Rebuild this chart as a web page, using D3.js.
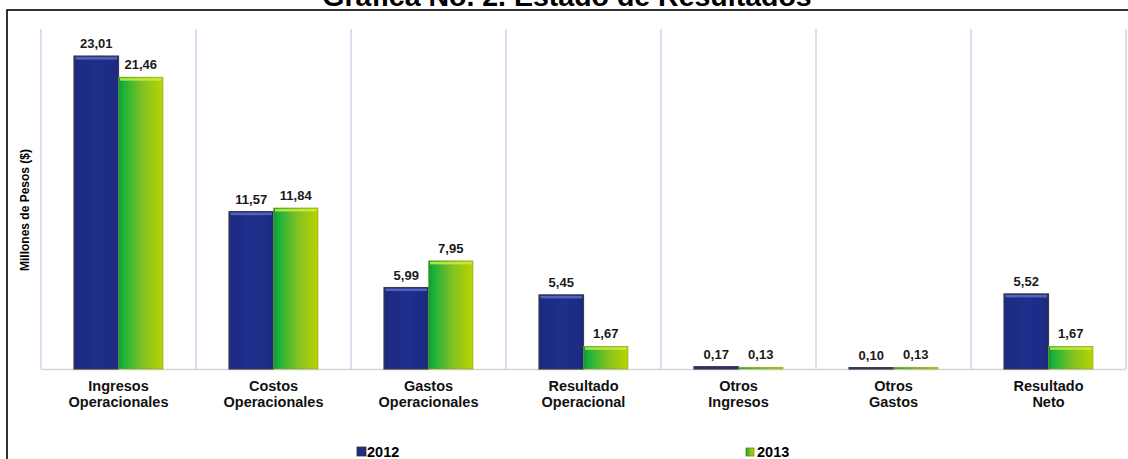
<!DOCTYPE html>
<html>
<head>
<meta charset="utf-8">
<script src="https://cdn.jsdelivr.net/npm/d3@7"></script>
<style>
  body { margin: 0; background: #fff; }
  svg { display: block; font-family: Arial, "Liberation Sans", sans-serif; }
</style>
</head>
<body>
<div id="chart"></div>
<script>
const categories = ["Ingresos Operacionales", "Costos Operacionales", "Gastos Operacionales",
    "Resultado Operacional", "Otros Ingresos", "Otros Gastos", "Resultado Neto"];
const values2012 = [23.01, 11.57, 5.99, 5.45, 0.17, 0.10, 5.52];
const values2013 = [21.46, 11.84, 7.95, 1.67, 0.13, 0.13, 1.67];
const seriesNames = ["2012", "2013"];

const width = 1128, height = 459;
const plot = {left: 41, right: 1126, top: 29, bottom: 369};

const svg = d3.select("#chart").append("svg")
    .attr("width", width)
    .attr("height", height);

const defs = svg.append("defs");

let g13 = defs.append("linearGradient").attr("id", "grad2013")
    .attr("x1", "0").attr("x2", "1").attr("y1", "0").attr("y2", "0");
g13.append("stop").attr("offset", "0%").attr("stop-color", "#0e9a3e");
g13.append("stop").attr("offset", "12%").attr("stop-color", "#1cb23a");
g13.append("stop").attr("offset", "55%").attr("stop-color", "#84c222");
g13.append("stop").attr("offset", "100%").attr("stop-color", "#b9d300");

let g12 = defs.append("linearGradient").attr("id", "grad2012")
    .attr("x1", "0").attr("x2", "1").attr("y1", "0").attr("y2", "0");
g12.append("stop").attr("offset", "0%").attr("stop-color", "#1b2a80");
g12.append("stop").attr("offset", "50%").attr("stop-color", "#1f2f8c");
g12.append("stop").attr("offset", "100%").attr("stop-color", "#1b2a80");

// outer frame (right/bottom edges fall outside the window)
svg.append("rect")
    .attr("x", 7).attr("y", 10)
    .attr("width", 1200).attr("height", 500)
    .attr("fill", "none")
    .attr("stroke", "#000")
    .attr("stroke-width", 1.6);

// title
svg.append("text")
    .attr("x", 567).attr("y", 6)
    .attr("text-anchor", "middle")
    .style("font-size", "28.5px")
    .style("font-weight", "bold")
    .text("Gráfica No. 2. Estado de Resultados");

const x0 = d3.scaleBand()
    .domain(categories)
    .range([plot.left, plot.right])
    .paddingInner(0.426)
    .paddingOuter(0.213);

const x1 = d3.scaleBand()
    .domain(seriesNames)
    .range([0, x0.bandwidth()]);

const y = d3.scaleLinear()
    .domain([0, 25])
    .range([plot.bottom, plot.top]);

// vertical separators between categories
const bounds = d3.range(categories.length + 1).map(i => plot.left + i * x0.step());
svg.append("g").selectAll("line")
    .data(bounds)
    .enter().append("line")
    .attr("x1", d => d).attr("x2", d => d)
    .attr("y1", y(25)).attr("y2", y(0))
    .attr("stroke", "#c3cfe6")
    .attr("stroke-width", 1.3);

// baseline
svg.append("line")
    .attr("x1", plot.left).attr("x2", plot.right)
    .attr("y1", y(0) + 0.5).attr("y2", y(0) + 0.5)
    .attr("stroke", "#d4d4d4")
    .attr("stroke-width", 1.5);

const rows = categories.map((c, i) => ({
    cat: c,
    vals: [
        {key: "2012", v: values2012[i]},
        {key: "2013", v: values2013[i]}
    ]
}));

const groups = svg.append("g").selectAll(".grp")
    .data(rows)
    .enter().append("g")
    .attr("class", "grp")
    .attr("transform", d => `translate(${x0(d.cat)},0)`);

const bars = groups.selectAll(".bar")
    .data(d => d.vals)
    .enter().append("g")
    .attr("class", "bar");

bars.append("rect")
    .attr("x", d => x1(d.key))
    .attr("y", d => y(d.v))
    .attr("width", x1.bandwidth())
    .attr("height", d => y(0) - y(d.v))
    .attr("fill", d => d.key === "2012" ? "url(#grad2012)" : "url(#grad2013)")
    .attr("stroke", d => d.key === "2012" ? "#3a3a4a" : "#8aa020")
    .attr("stroke-width", d => d.key === "2012" ? 1.2 : 0.6);

// top bevel highlight
bars.filter(d => y(0) - y(d.v) > 5).append("rect")
    .attr("x", d => x1(d.key) + 1.5)
    .attr("y", d => y(d.v) + 1)
    .attr("width", x1.bandwidth() - 3)
    .attr("height", 2.5)
    .attr("fill", d => d.key === "2012" ? "#5b6dc9" : "#c9ee40")
    .attr("opacity", 0.85);

// value labels
bars.append("text")
    .attr("x", d => x1(d.key) + x1.bandwidth() / 2)
    .attr("y", d => y(d.v) - 8)
    .attr("text-anchor", "middle")
    .style("font-size", "13px")
    .style("font-weight", "bold")
    .attr("fill", "#1a1a1a")
    .text(d => d3.format(".2f")(d.v).replace(".", ","));

// category axis
const xAxis = svg.append("g")
    .attr("transform", `translate(0,${y(0)})`)
    .call(d3.axisBottom(x0).tickSize(0).tickPadding(0));
xAxis.select(".domain").remove();
xAxis.selectAll(".tick text").each(function(d) {
    const t = d3.select(this).text(null)
        .attr("y", 0)
        .attr("dy", null)
        .style("font-size", "14.5px")
        .style("font-weight", "bold")
        .style("font-family", "Arial, 'Liberation Sans', sans-serif")
        .attr("fill", "#111");
    d.split(" ").forEach((w, i) => {
        t.append("tspan").attr("x", 0).attr("y", 22 + i * 16).text(w);
    });
});

// y axis title
svg.append("text")
    .attr("transform", "translate(29,210) rotate(-90)")
    .attr("text-anchor", "middle")
    .style("font-size", "12px")
    .style("font-weight", "bold")
    .text("Millones de Pesos ($)");

// legend
const legendX = [357, 746];
const legend = svg.append("g").selectAll("g")
    .data(seriesNames)
    .enter().append("g")
    .attr("transform", (d, i) => `translate(${legendX[i]},447)`);
legend.append("rect")
    .attr("width", (d, i) => i === 0 ? 9 : 8)
    .attr("height", (d, i) => i === 0 ? 9 : 8)
    .attr("y", (d, i) => i === 0 ? 0 : 1)
    .attr("fill", d => d === "2012" ? "url(#grad2012)" : "url(#grad2013)")
    .attr("stroke", d => d === "2012" ? "#333" : "#6a8a10")
    .attr("stroke-width", 0.8);
legend.append("text")
    .attr("x", (d, i) => i === 0 ? 10 : 11)
    .attr("y", 9.5)
    .style("font-size", "14.5px")
    .style("font-weight", "bold")
    .text(d => d);
</script>
</body>
</html>
